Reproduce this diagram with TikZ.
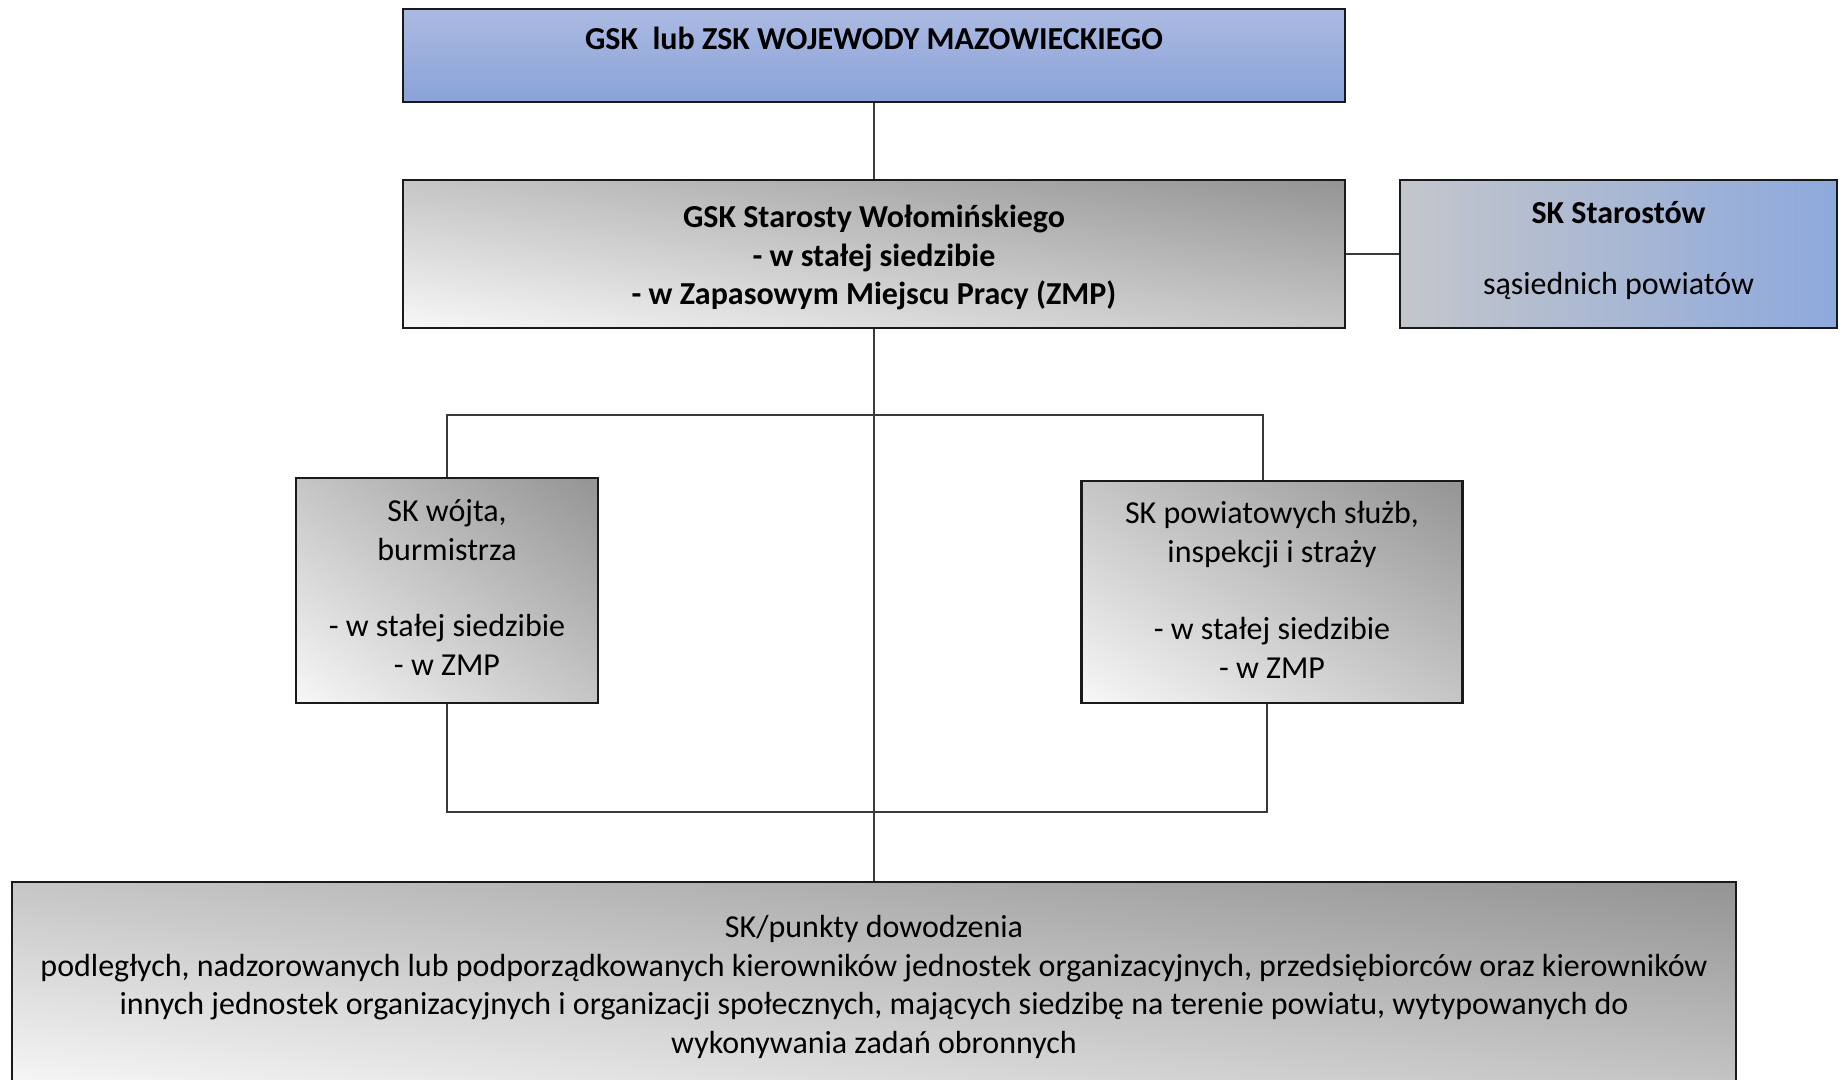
\documentclass[tikz,border=0pt]{standalone}
\usepackage{fontspec}
\setmainfont{Carlito}
\usepackage{xcolor}
\definecolor{WojBlueTop}{HTML}{ABBAE2}
\definecolor{WojBlueBot}{HTML}{8AA2D8}
\definecolor{SasGrey}{HTML}{C4C6CB}
\definecolor{SasBlue}{HTML}{8DA9DC}
\definecolor{BoxLine}{HTML}{1A1A1A}
\definecolor{ConnLine}{HTML}{3A3A3A}

% diagonal grey fill of a box: centre x, centre y, width, height
\newcommand\diagfill[4]{%
  \begin{scope}[transform canvas={shift={(#1,#2)}, xscale=#3/100,
                yscale=#4/100}]
    \clip (-50,-50) rectangle (50,50);
    \begin{scope}[transform canvas={rotate=-45}]
      \shade[greyshade] (-70.72,-70.72) rectangle (70.72,70.72);
    \end{scope}
  \end{scope}}

\begin{document}
\begin{tikzpicture}[
  x=1pt, y=-1pt,
  every node/.style={font=\fontsize{32}{38.8}\selectfont, text=black},
  box/.style={draw=BoxLine, line width=2.5pt, inner sep=0pt},
  bluebox/.style={box, top color=WojBlueTop, bottom color=WojBlueBot},
  greybox/.style={box},
  greyshade/.style={top color=black!42, bottom color=black!3},
  mixbox/.style={box, left color=SasGrey, right color=SasBlue},
  lbl/.style={align=center, inner sep=0pt},
  conn/.style={draw=ConnLine, line width=1.3pt},
]
\useasboundingbox (0,0) rectangle (1843,1079);

%% ── Grey fills ───────────────────────────────
\diagfill{874}{254}{942}{148}
\diagfill{447}{590.5}{302}{225}
\diagfill{1272}{592}{381}{222}
\diagfill{874}{986}{1724}{208}

%% ── Top level ────────────────────────────────
\node[bluebox, minimum width=942pt, minimum height=93pt]
     at (874, 55.5) (woj) {};
\node[lbl, font=\fontsize{32}{38.8}\selectfont\bfseries]
     at (874, 38) (wojtxt) {GSK~~lub ZSK WOJEWODY MAZOWIECKIEGO};

%% ── Starosta + neighbours ────────────────────
\node[greybox, minimum width=942pt, minimum height=148pt]
     at (874, 254) (gsk) {};
\node[lbl, font=\fontsize{32}{38.8}\selectfont\bfseries]
     at (874, 257.5) (gsktxt) {GSK Starosty Wołomińskiego\\
     - w stałej siedzibie\\
     - w Zapasowym Miejscu Pracy (ZMP)};
\node[mixbox, minimum width=437pt, minimum height=148pt]
     at (1618.5, 254) (sas) {};
\node[lbl] at (1618.5, 250.5) (sastxt)
     {\textbf{SK Starostów}\\[32pt] sąsiednich powiatów};

%% ── Second row ───────────────────────────────
\node[greybox, minimum width=302pt, minimum height=225pt]
     at (447, 590.5) (wojt) {};
\node[lbl] at (447, 587.5) (wojttxt)
     {SK wójta,\\burmistrza\\[38pt] - w stałej siedzibie\\- w ZMP};
\node[greybox, minimum width=381pt, minimum height=222pt]
     at (1272, 592) (sluzb) {};
\node[lbl] at (1272, 590) (sluzbtxt)
     {SK powiatowych służb,\\inspekcji i straży\\[38pt] - w stałej siedzibie\\- w ZMP};

%% ── Bottom level ─────────────────────────────
\node[greybox, minimum width=1724pt, minimum height=208pt]
     at (874, 986) (pkt) {};
\node[lbl] at (874, 987) (pkttxt)
     {SK/punkty dowodzenia\\
     podległych, nadzorowanych lub podporządkowanych kierowników jednostek organizacyjnych, przedsiębiorców oraz kierowników\\
     innych jednostek organizacyjnych i organizacji społecznych, mających siedzibę na terenie powiatu, wytypowanych do\\
     wykonywania zadań obronnych};

%% ── Connectors ───────────────────────────────
\coordinate (jtop) at (874, 415);
\coordinate (jbot) at (874, 812);
\draw[conn] (woj.south) -- (gsk.north);
\draw[conn] (gsk.east) -- (sas.west);
\draw[conn] (gsk.south) -- (pkt.north);
\draw[conn] (wojt.north) |- (jtop) -| ([xshift=-9pt]sluzb.north);
\draw[conn] (wojt.south) |- (jbot) -| ([xshift=-5pt]sluzb.south);

\end{tikzpicture}
\end{document}
